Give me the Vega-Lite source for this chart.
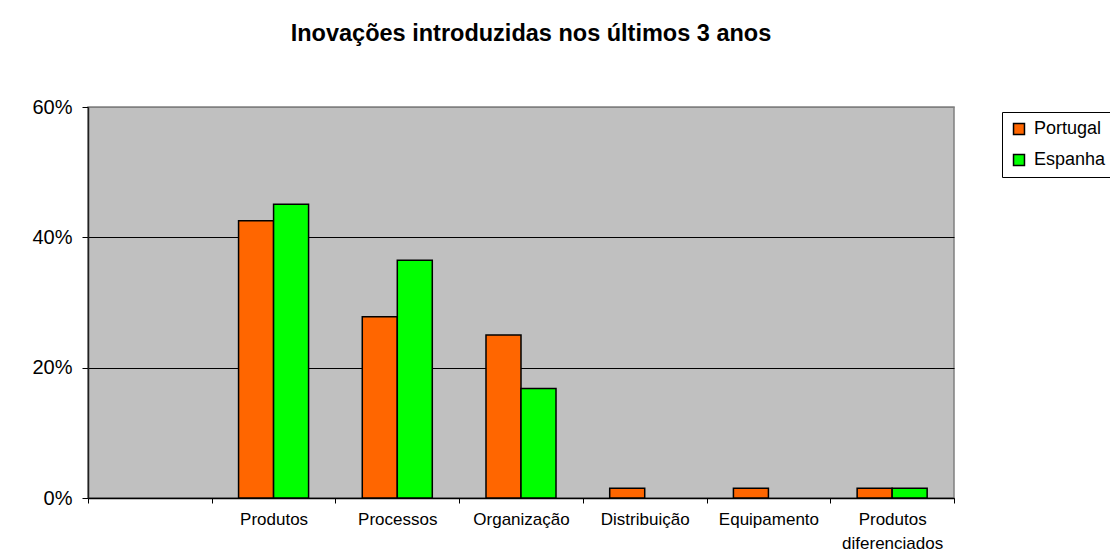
{
  "$schema": "https://vega.github.io/schema/vega-lite/v6.json",
  "autosize": {"type": "none"},
  "padding": {"left": 88, "top": 107, "right": 156, "bottom": 62},
  "width": 866,
  "height": 391,
  "background": "white",
  "config": {
    "font": "Liberation Sans",
    "view": {"fill": "#C0C0C0", "stroke": "#808080", "strokeWidth": 1.5}
  },
  "title": {
    "text": "Inovações introduzidas nos últimos 3 anos",
    "anchor": "middle",
    "frame": "group",
    "dx": 10,
    "offset": 52,
    "fontSize": 23.5,
    "fontWeight": "bold",
    "color": "black",
    "font": "Liberation Sans"
  },
  "data": {
    "values": [
      {"categoria": "Produtos", "pais": "Portugal", "valor": 0.4255},
      {"categoria": "Produtos", "pais": "Espanha", "valor": 0.4507},
      {"categoria": "Processos", "pais": "Portugal", "valor": 0.278},
      {"categoria": "Processos", "pais": "Espanha", "valor": 0.365},
      {"categoria": "Organização", "pais": "Portugal", "valor": 0.25},
      {"categoria": "Organização", "pais": "Espanha", "valor": 0.168},
      {"categoria": "Distribuição", "pais": "Portugal", "valor": 0.015},
      {"categoria": "Equipamento", "pais": "Portugal", "valor": 0.015},
      {"categoria": "Produtos diferenciados", "pais": "Portugal", "valor": 0.015},
      {"categoria": "Produtos diferenciados", "pais": "Espanha", "valor": 0.015}
    ]
  },
  "mark": {"type": "bar", "stroke": "black", "strokeWidth": 1.5},
  "encoding": {
    "x": {
      "field": "categoria",
      "type": "nominal",
      "sort": null,
      "scale": {
        "domain": ["", "Produtos", "Processos", "Organização", "Distribuição", "Equipamento", "Produtos diferenciados"],
        "paddingInner": 0,
        "paddingOuter": 0
      },
      "axis": {
        "title": null,
        "labelAngle": 0,
        "labelFontSize": 17,
        "labelColor": "black",
        "labelExpr": "split(datum.label, ' ')",
        "labelLineHeight": 24,
        "labelPadding": 8,
        "labelBaseline": "top",
        "tickBand": "extent",
        "tickSize": 5,
        "tickColor": "black",
        "domainColor": "black",
        "domainWidth": 1.5,
        "tickWidth": 1,
        "grid": false
      }
    },
    "xOffset": {
      "field": "pais",
      "type": "nominal",
      "scale": {"domain": ["Portugal", "Espanha"], "paddingInner": 0, "paddingOuter": 0.767}
    },
    "y": {
      "field": "valor",
      "type": "quantitative",
      "scale": {"domain": [0, 0.6], "nice": false},
      "axis": {
        "title": null,
        "values": [0, 0.2, 0.4, 0.6],
        "format": ".0%",
        "labelFontSize": 20,
        "labelColor": "black",
        "labelPadding": 10,
        "tickSize": 6,
        "tickColor": "black",
        "domainColor": "#202020",
        "domainWidth": 1.5,
        "grid": true,
        "gridColor": {"condition": {"test": "datum.value >= 0.59", "value": "#808080"}, "value": "black"},
        "gridWidth": 1.2,
        "gridOpacity": 1
      }
    },
    "color": {
      "field": "pais",
      "type": "nominal",
      "scale": {"domain": ["Portugal", "Espanha"], "range": ["#FF6600", "#00FF00"]},
      "legend": {
        "title": null,
        "orient": "none",
        "legendX": 914,
        "legendY": 5,
        "fillColor": "white",
        "strokeColor": "black",
        "padding": 8,
        "symbolType": "square",
        "symbolSize": 120,
        "symbolStrokeColor": "black",
        "symbolStrokeWidth": 1.5,
        "symbolOpacity": 1,
        "labelFontSize": 18,
        "labelColor": "black",
        "labelOffset": 6,
        "rowPadding": 13
      }
    }
  }
}
